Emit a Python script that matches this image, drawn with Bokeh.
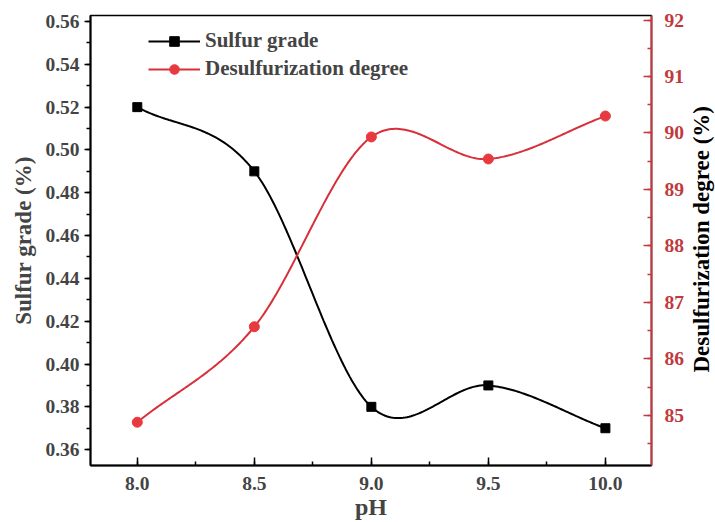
import numpy as np
from bokeh.plotting import figure
from bokeh.layouts import row
from bokeh.models import (Range1d, LinearAxis, SingleIntervalTicker, NumeralTickFormatter,
                          Legend, LegendItem, Label)
from bokeh.embed import file_html
from bokeh.resources import INLINE

# ---- data ----
ph = [8.0, 8.5, 9.0, 9.5, 10.0]
sulfur_grade = [0.52, 0.49, 0.38, 0.39, 0.37]
desulf_degree = [84.88, 86.57, 89.93, 89.54, 90.30]

FONT = "Liberation Serif"
BLACK = "#000000"
RED_AX = "#c0393d"
RED_LINE = "#d8303a"
RED_MK = "#e8393e"
TICK_FS = "19.5px"
TITLE_FS = "23px"

W_MAIN, W_TITLE, H = 687, 28, 522
B_LEFT, B_RIGHT, B_TOP, B_BOTTOM = 90, 36, 15, 55


def smooth(xk, yk, n=60):
    """Cardinal (Catmull-Rom) cubic connector through the data points."""
    xk = np.asarray(xk, float)
    yk = np.asarray(yk, float)
    m = len(xk)
    t = np.zeros(m)
    t[0] = (yk[1] - yk[0]) / (xk[1] - xk[0])
    t[-1] = (yk[-1] - yk[-2]) / (xk[-1] - xk[-2])
    for i in range(1, m - 1):
        t[i] = (yk[i + 1] - yk[i - 1]) / (xk[i + 1] - xk[i - 1])
    xs_all, ys_all = [], []
    for i in range(m - 1):
        h = xk[i + 1] - xk[i]
        s = np.linspace(0, 1, n)
        h00 = 2 * s ** 3 - 3 * s ** 2 + 1
        h10 = s ** 3 - 2 * s ** 2 + s
        h01 = -2 * s ** 3 + 3 * s ** 2
        h11 = s ** 3 - s ** 2
        ys = h00 * yk[i] + h10 * h * t[i] + h01 * yk[i + 1] + h11 * h * t[i + 1]
        xs = xk[i] + s * h
        if i > 0:
            xs, ys = xs[1:], ys[1:]
        xs_all.append(xs)
        ys_all.append(ys)
    return np.concatenate(xs_all), np.concatenate(ys_all)


p = figure(width=W_MAIN, height=H,
           x_range=Range1d(7.8, 10.197), y_range=Range1d(0.3526, 0.5628),
           output_backend="svg", toolbar_location=None,
           min_border_left=B_LEFT, min_border_right=B_RIGHT,
           min_border_top=B_TOP, min_border_bottom=B_BOTTOM)
p.extra_y_ranges = {"d": Range1d(84.114, 92.08)}
p.xgrid.visible = False
p.ygrid.visible = False
p.outline_line_color = BLACK
p.outline_line_width = 1.5
p.background_fill_color = "white"
p.border_fill_color = "white"

# ---- x axis ----
xa = p.xaxis[0]
xa.ticker = SingleIntervalTicker(interval=0.5, num_minor_ticks=2)
xa.formatter = NumeralTickFormatter(format="0.0")
xa.axis_label = "pH"
xa.axis_line_width = 2
xa.major_tick_in = 8
xa.major_tick_out = 0
xa.minor_tick_in = 4
xa.minor_tick_out = 0
xa.major_tick_line_width = 1.5
xa.minor_tick_line_width = 1.5
xa.major_label_standoff = 11
xa.axis_label_standoff = 1
xa.major_label_text_font = FONT
xa.major_label_text_font_style = "bold"
xa.major_label_text_font_size = TICK_FS
xa.axis_label_text_font = FONT
xa.axis_label_text_font_style = "bold"
xa.axis_label_text_font_size = "24px"

# ---- left axis ----
ya = p.yaxis[0]
ya.ticker = SingleIntervalTicker(interval=0.02, num_minor_ticks=2)
ya.formatter = NumeralTickFormatter(format="0.00")
ya.axis_label = "Sulfur grade (%)"
ya.axis_line_width = 2
ya.major_tick_in = 0
ya.major_tick_out = 6
ya.minor_tick_in = 0
ya.minor_tick_out = 4
ya.major_tick_line_width = 1.5
ya.minor_tick_line_width = 1.5
ya.major_label_standoff = 5
ya.axis_label_standoff = 6
ya.major_label_text_font = FONT
ya.major_label_text_font_style = "bold"
ya.major_label_text_font_size = TICK_FS
ya.axis_label_text_font = FONT
ya.axis_label_text_font_style = "bold"
ya.axis_label_text_font_size = TITLE_FS

# ---- right axis ----
ra = LinearAxis(y_range_name="d",
                ticker=SingleIntervalTicker(interval=1, num_minor_ticks=2),
                formatter=NumeralTickFormatter(format="0"))
ra.axis_line_color = RED_AX
ra.axis_line_width = 2
ra.major_tick_line_color = RED_AX
ra.minor_tick_line_color = RED_AX
ra.major_tick_in = 8
ra.major_tick_out = 0
ra.minor_tick_in = 4
ra.minor_tick_out = 0
ra.major_tick_line_width = 1.5
ra.minor_tick_line_width = 1.5
ra.major_label_standoff = 13
ra.major_label_text_color = RED_AX
ra.major_label_text_font = FONT
ra.major_label_text_font_style = "bold"
ra.major_label_text_font_size = TICK_FS
p.add_layout(ra, "right")

# ---- series ----
sx, sy = smooth(ph, sulfur_grade)
l1 = p.line(sx, sy, line_color=BLACK, line_width=2)
s1 = p.scatter(ph, sulfur_grade, marker="square", size=9, fill_color=BLACK, line_color=BLACK)

dx, dy = smooth(ph, desulf_degree)
l2 = p.line(dx, dy, line_color=RED_LINE, line_width=2, y_range_name="d")
s2 = p.scatter(ph, desulf_degree, marker="circle", size=10, fill_color=RED_MK, line_color=RED_MK,
               y_range_name="d")

legend = Legend(items=[LegendItem(label="Sulfur grade", renderers=[l1, s1]),
                       LegendItem(label="Desulfurization degree", renderers=[l2, s2])],
                location=(58, 384))
legend.border_line_color = None
legend.background_fill_alpha = 0
legend.padding = 0
legend.margin = 0
legend.glyph_width = 52
legend.glyph_height = 24
legend.spacing = 3
legend.label_standoff = 5
legend.label_text_font = FONT
legend.label_text_font_style = "bold"
legend.label_text_font_size = "21px"
p.add_layout(legend)

# ---- right-hand axis title (separate narrow panel, reads bottom-to-top) ----
pt = figure(width=W_TITLE, height=H, x_range=Range1d(0, W_TITLE), y_range=Range1d(0, H),
            output_backend="svg", toolbar_location=None,
            min_border_left=0, min_border_right=0, min_border_top=0, min_border_bottom=0)
pt.axis.visible = False
pt.xgrid.visible = False
pt.ygrid.visible = False
pt.outline_line_color = None
pt.background_fill_color = "white"
pt.border_fill_color = "white"
frame_mid = H - (B_TOP + (H - B_TOP - B_BOTTOM) / 2)
pt.add_layout(Label(x=W_TITLE / 2, y=frame_mid, y_offset=-16, text="Desulfurization degree (%)",
                    angle=np.pi / 2, text_align="center", text_baseline="middle",
                    text_font=FONT, text_font_style="bold", text_font_size=TITLE_FS,
                    text_color=BLACK))

layout = row(p, pt, spacing=0)
open("out.html", "w").write(file_html(layout, INLINE))
